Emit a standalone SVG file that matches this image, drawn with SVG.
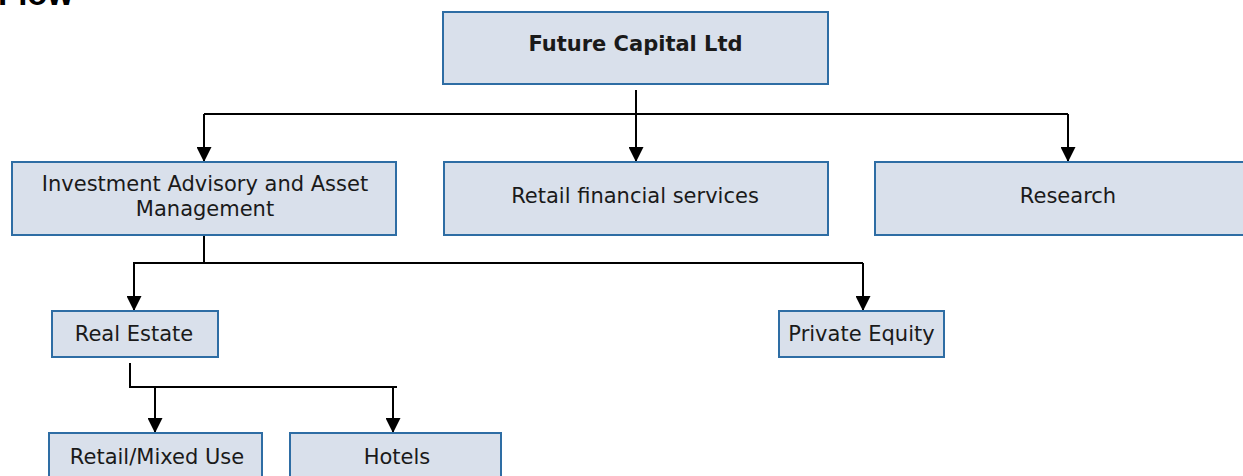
<svg xmlns="http://www.w3.org/2000/svg" width="1243" height="476" viewBox="0 0 1243 476">
  <style>
    .box { fill: #D9E0EB; stroke: #2E6DA4; stroke-width: 2; }
    .lbl { font-family: "DejaVu Sans", Verdana, sans-serif; font-size: 21px; fill: #1a1a1a; text-anchor: middle; }
    .bold { font-weight: bold; }
    .wire { fill: none; stroke: #000; stroke-width: 2; }
    .title { font-family: "Liberation Sans", Arial, sans-serif; font-weight: bold; font-size: 33px; fill: #000; }
  </style>
  <defs>
    <marker id="arrow" markerWidth="15" markerHeight="15" refX="14" refY="7.5" orient="auto" markerUnits="userSpaceOnUse">
      <path d="M0,0 L15,7.5 L0,15 Z" fill="#000"/>
    </marker>
  </defs>
  <rect width="1243" height="476" fill="#fff"/>

  <!-- heading, mostly outside the top edge -->
  <text class="title" x="-2" y="5">Flow</text>

  <g id="connectors">
    <path class="wire" d="M636,90 V114 M204,114 H1068"/>
    <path class="wire" d="M204,114 V161" marker-end="url(#arrow)"/>
    <path class="wire" d="M636,114 V161" marker-end="url(#arrow)"/>
    <path class="wire" d="M1068,114 V161" marker-end="url(#arrow)"/>
    <path class="wire" d="M204,236 V263 M133,263 H863"/>
    <path class="wire" d="M134,263 V310" marker-end="url(#arrow)"/>
    <path class="wire" d="M863,263 V310" marker-end="url(#arrow)"/>
    <path class="wire" d="M130,363 V387 H397"/>
    <path class="wire" d="M155,387 V432" marker-end="url(#arrow)"/>
    <path class="wire" d="M393,387 V432" marker-end="url(#arrow)"/>
  </g>

  <g id="future-capital">
    <rect class="box" x="443" y="12" width="385" height="72"/>
    <text class="lbl bold" x="635.5" y="51">Future Capital Ltd</text>
  </g>
  <g id="investment-advisory">
    <rect class="box" x="12" y="162" width="384" height="73"/>
    <text class="lbl" x="205" y="191">Investment Advisory and Asset</text>
    <text class="lbl" x="205" y="216">Management</text>
  </g>
  <g id="retail-financial">
    <rect class="box" x="444" y="162" width="384" height="73"/>
    <text class="lbl" x="635" y="203">Retail financial services</text>
  </g>
  <g id="research">
    <rect class="box" x="875" y="162" width="380" height="73"/>
    <text class="lbl" x="1068" y="203">Research</text>
  </g>
  <g id="real-estate">
    <rect class="box" x="52" y="311" width="166" height="46"/>
    <text class="lbl" x="134" y="341">Real Estate</text>
  </g>
  <g id="private-equity">
    <rect class="box" x="779" y="311" width="165" height="46"/>
    <text class="lbl" x="861.5" y="341">Private Equity</text>
  </g>
  <g id="retail-mixed-use">
    <rect class="box" x="49" y="433" width="213" height="50"/>
    <text class="lbl" x="157" y="464">Retail/Mixed Use</text>
  </g>
  <g id="hotels">
    <rect class="box" x="290" y="433" width="211" height="50"/>
    <text class="lbl" x="397" y="464">Hotels</text>
  </g>
</svg>
